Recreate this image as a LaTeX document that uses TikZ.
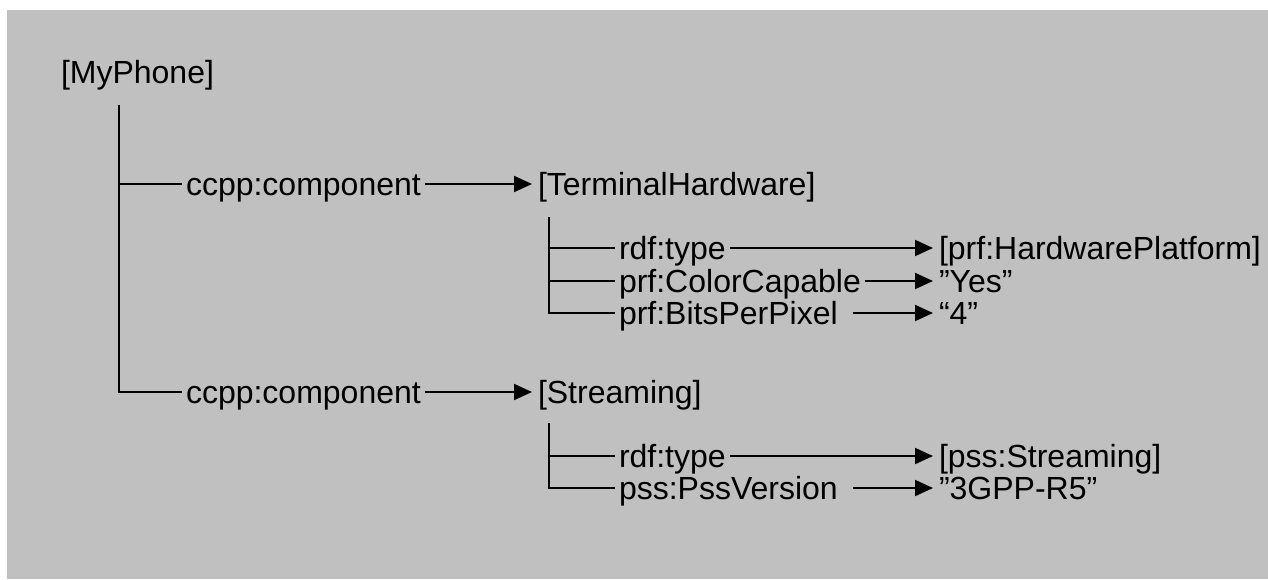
\documentclass[tikz,border=0pt]{standalone}
\usepackage{fontspec}
\setmainfont{Liberation Sans}
\usetikzlibrary{arrows.meta}
\definecolor{panel-grey}{RGB}{192, 192, 192}

\begin{document}
\begin{tikzpicture}[x=0.5pt, y=-0.5pt, line width=1pt,
    lbl/.style={anchor=west, inner sep=0pt, inner xsep=1.5pt, text height=13pt, text depth=2pt, font=\fontsize{16}{18}\selectfont},
    arr/.style={-{Triangle[length=9pt, width=8pt]}, shorten >=1pt},
    gapped/.style={shorten <=5.5pt}]
    \useasboundingbox (0, 0) rectangle (1268, 579);
    \fill[panel-grey] (7, 10) rectangle (1268, 579);

    % root and its two components
    \node[lbl] (phone) at (57, 72) {[MyPhone]};
    \node[lbl] (comp1) at (182, 184) {ccpp:component};
    \node[lbl] (hw) at (534, 184) {[TerminalHardware]};
    \node[lbl] (comp2) at (182, 392) {ccpp:component};
    \node[lbl] (strm) at (534, 392) {[Streaming]};

    % TerminalHardware properties
    \node[lbl] (hwtype) at (615, 248) {rdf:type};
    \node[lbl] (color) at (615, 281) {prf:ColorCapable};
    \node[lbl] (bits) at (615, 313) {prf:BitsPerPixel};
    \node[lbl] (hwplat) at (935, 248) {[prf:HardwarePlatform]};
    \node[lbl] (yes) at (935, 281) {”Yes”};
    \node[lbl] (four) at (935, 313) {“4”};

    % Streaming properties
    \node[lbl] (sttype) at (615, 456) {rdf:type};
    \node[lbl] (pssver) at (615, 488) {pss:PssVersion};
    \node[lbl] (pssst) at (935, 456) {[pss:Streaming]};
    \node[lbl] (r5) at (935, 488) {”3GPP-R5”};

    \coordinate (root) at (119, 105);
    \coordinate (hwroot) at (549, 217);
    \coordinate (stroot) at (549, 423);

    \draw (root) |- (comp2.west);
    \draw (root |- comp1.west) -- (comp1.west);
    \draw[arr] (comp1.east) -- (hw.west);
    \draw[arr] (comp2.east) -- (strm.west);

    \draw (hwroot) |- (bits.west);
    \draw (hwroot |- hwtype.west) -- (hwtype.west);
    \draw (hwroot |- color.west) -- (color.west);
    \draw[arr] (hwtype.east) -- (hwplat.west);
    \draw[arr] (color.east) -- (yes.west);
    \draw[arr, gapped] (bits.east) -- (four.west);

    \draw (stroot) |- (pssver.west);
    \draw (stroot |- sttype.west) -- (sttype.west);
    \draw[arr] (sttype.east) -- (pssst.west);
    \draw[arr, gapped] (pssver.east) -- (r5.west);
\end{tikzpicture}
\end{document}
